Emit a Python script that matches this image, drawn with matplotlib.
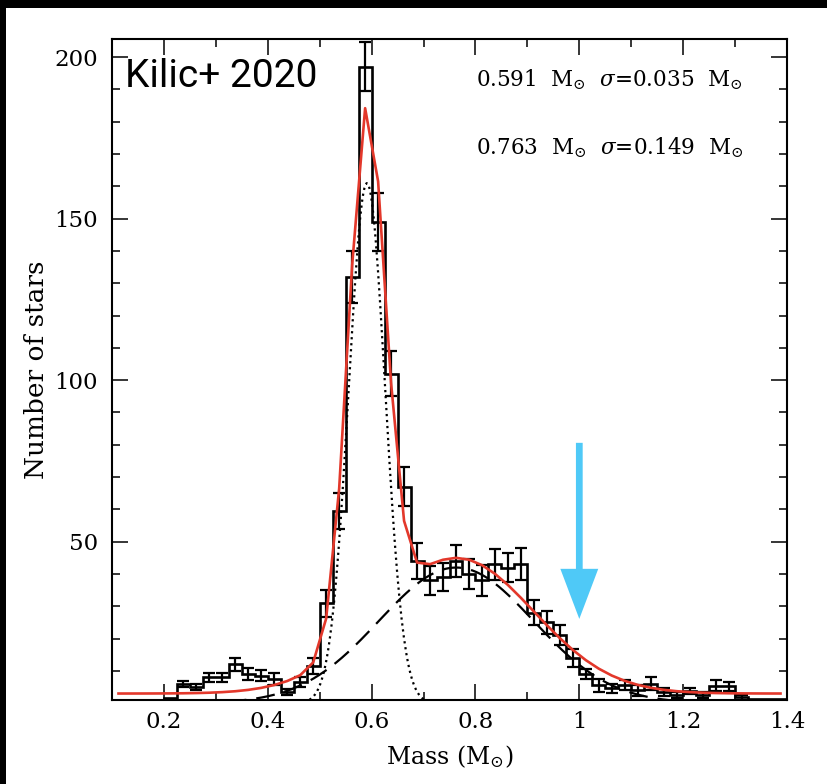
import numpy as np
import matplotlib
matplotlib.use("Agg")
import matplotlib.pyplot as plt
from matplotlib.ticker import MultipleLocator, FuncFormatter
from matplotlib.patches import Rectangle

plt.rcParams['mathtext.fontset'] = 'dejavuserif'

# histogram: 0.025 Msun bins from 0.2 to 1.4
bin_lo, bin_hi, bin_w = 0.2, 1.4, 0.025
counts = [1.5, 6, 5, 8, 8, 12, 9, 8.5, 7.5, 3.5, 6.5, 11.5, 31, 59.5, 132, 197,
          149, 102, 67, 44, 38, 39, 44, 40, 38, 43, 42, 43, 28, 25, 21, 14,
          9, 5.5, 4.7, 5.7, 4, 6, 3.5, 2.6, 3.8, 2.6, 5.4, 5.2, 1.9, 1.4, 1.4, 1.4]
errs = [0, 1.0, 1.0, 1.4, 1.3, 2.0, 1.8, 1.7, 1.8, 1.0, 1.5, 2.6, 4.2, 5.7, 8.0, 7.6,
        8.9, 7.0, 6.0, 5.6, 4.4, 4.4, 4.9, 4.6, 4.7, 4.8, 4.5, 4.9, 3.9, 3.5, 3.1, 2.8,
        1.5, 1.9, 1.4, 1.5, 1.7, 2.0, 1.2, 1.0, 0.8, 1.0, 1.7, 1.5, 0.8, 0, 0, 0]

# two-gaussian fit (means/sigmas as printed on the plot)
mu1, sig1, amp1 = 0.591, 0.035, 161
mu2, sig2, amp2 = 0.763, 0.149, 42
base = 3.0
arrow_x = 1.0

edges = np.linspace(bin_lo, bin_hi, len(counts) + 1)
centers = 0.5 * (edges[:-1] + edges[1:])
counts = np.array(counts)
errs = np.array(errs)

def g(x, a, m, s):
    return a * np.exp(-0.5 * ((x - m) / s) ** 2)

fig = plt.figure(figsize=(8.27, 7.84), dpi=100, facecolor='black')
fig.patches.append(Rectangle((6 / 827, 0), 1, 1 - 8 / 784, transform=fig.transFigure,
                             facecolor='white', edgecolor='none', zorder=-10))
ax = fig.add_axes([112 / 827, 1 - 700 / 784, 675 / 827, 661 / 784])

ax.stairs(counts, edges, baseline=0, color='black', lw=1.9)
m = errs > 0
ax.errorbar(centers[m], counts[m], yerr=errs[m], fmt='none', ecolor='black',
            elinewidth=1.6, capsize=4.5, capthick=1.6)

xf = np.linspace(0.1, 1.4, 600)
ax.plot(xf, g(xf, amp1, mu1, sig1), color='black', lw=1.6, ls=(0, (1, 1.7)))
ax.plot(xf, g(xf, amp2, mu2, sig2), color='black', lw=1.6, ls=(0, (8.5, 4.5)))
xr = np.arange(0.1125, 1.39, 0.025)
ax.plot(xr, g(xr, amp1, mu1, sig1) + g(xr, amp2, mu2, sig2) + base,
        color='#e3382b', lw=1.9)

ax.arrow(arrow_x, 80.6, 0, -54.5, width=0.013, head_width=0.073, head_length=15.5,
         length_includes_head=True, color='#4fc9f7', lw=0, zorder=5)

ax.set_xlim(0.1, 1.4)
ax.set_ylim(1, 205.6)
ax.xaxis.set_major_locator(MultipleLocator(0.2))
ax.xaxis.set_minor_locator(MultipleLocator(0.1))
ax.yaxis.set_minor_locator(MultipleLocator(10))
ax.xaxis.set_major_formatter(FuncFormatter(lambda v, p: f"{v:g}"))
ax.set_yticks([50, 100, 150, 200])
ax.tick_params(which='both', direction='in', top=True, right=True, width=1.1)
ax.tick_params(which='major', length=11.5, labelsize=16.5)
ax.tick_params(which='minor', length=6)
ax.tick_params(axis='x', pad=8)
ax.tick_params(axis='y', pad=10)
for lab in ax.get_xticklabels() + ax.get_yticklabels():
    lab.set_family('DejaVu Serif')
for s in ax.spines.values():
    s.set_linewidth(1.5)

ax.set_xlabel(r'Mass (M$_{\odot}$)', family='DejaVu Serif', fontsize=17, labelpad=7)
ax.set_ylabel('Number of stars', family='DejaVu Serif', fontsize=19, labelpad=4)

ax.text(0.019, 0.944, 'Kilic+ 2020', transform=ax.transAxes, va='center', ha='left',
        fontsize=28, family=['Roboto'])
ax.text(0.539, 0.938, r'0.591  M$_{\odot}$  $\sigma$=0.035  M$_{\odot}$',
        transform=ax.transAxes, va='center', ha='left', fontsize=15.5, family='DejaVu Serif')
ax.text(0.539, 0.835, r'0.763  M$_{\odot}$  $\sigma$=0.149  M$_{\odot}$',
        transform=ax.transAxes, va='center', ha='left', fontsize=15.5, family='DejaVu Serif')

fig.savefig('out.png', dpi=100, facecolor=fig.get_facecolor())
